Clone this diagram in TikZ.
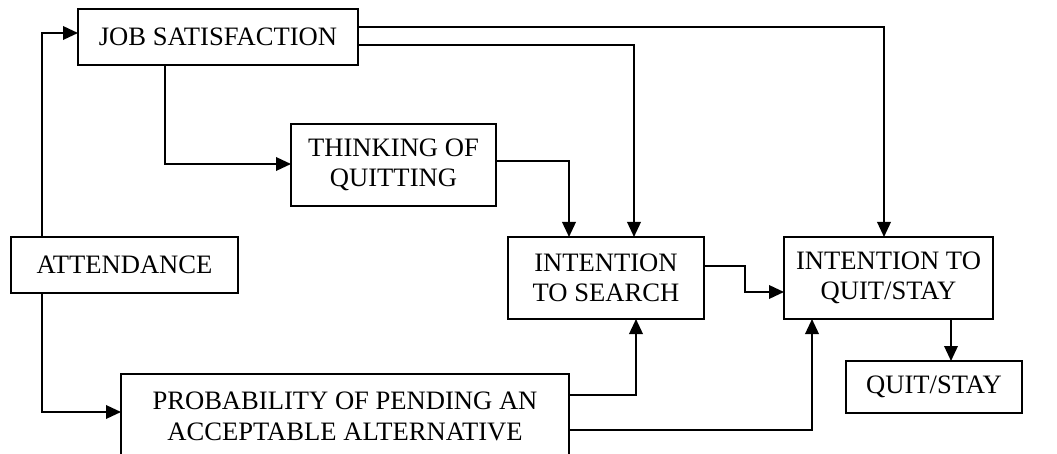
\documentclass[tikz,border=0pt]{standalone}
\usepackage{fontspec}
\setmainfont{Liberation Serif}
\usetikzlibrary{arrows.meta}
\tikzset{
  box/.style={draw, line width=2pt, inner sep=0pt, outer sep=0pt, align=center,
    font=\fontsize{26.6}{30}\selectfont},
  arr/.style={line width=2pt, -{Triangle[length=15pt,width=13.5pt]}},
}
\begin{document}
\begin{tikzpicture}[x=1pt,y=-1pt]
\useasboundingbox (0,0) rectangle (1057,454);
\clip (0,0) rectangle (1057,454);
\node[box, minimum width=280pt, minimum height=56pt] (js) at (218,37) {JOB SATISFACTION};
\node[box, minimum width=205pt, minimum height=82pt] (tq) at (393.5,165) {THINKING OF\\QUITTING};
\node[box, minimum width=227pt, minimum height=56pt] (att) at (124.5,265) {ATTENDANCE};
\node[box, minimum width=196pt, minimum height=82pt] (is) at (606,278) {INTENTION\\TO SEARCH};
\node[box, minimum width=209pt, minimum height=82pt] (iqs) at (888.5,278) {INTENTION TO\\QUIT/STAY};
\node[box, minimum width=176pt, minimum height=52pt] (qs) at (934,387) {QUIT/STAY};
\node[box, minimum width=448pt, minimum height=84pt, font=\fontsize{26.6}{31}\selectfont] (prob) at (345,416) {PROBABILITY OF PENDING AN\\ACCEPTABLE ALTERNATIVE};

\draw[arr] (42,0 |- att.north) |- (js.west |- 0,33);
\draw[arr] (42,0 |- att.south) |- (prob.west |- 0,412);
\draw[arr] (165,0 |- js.south) |- (tq.west |- 0,164);
\draw[arr] (js.east |- 0,27) -| (884,0 |- iqs.north);
\draw[arr] (js.east |- 0,45) -| (634,0 |- is.north);
\draw[arr] (tq.east |- 0,161) -| (569,0 |- is.north);
\draw[arr] (is.east |- 0,266) -| (745,292) -- (iqs.west |- 0,292);
\draw[arr] (prob.east |- 0,395) -| (636,0 |- is.south);
\draw[arr] (prob.east |- 0,430) -| (812,0 |- iqs.south);
\draw[arr] (951,0 |- iqs.south) -- (951,0 |- qs.north);
\end{tikzpicture}
\end{document}
